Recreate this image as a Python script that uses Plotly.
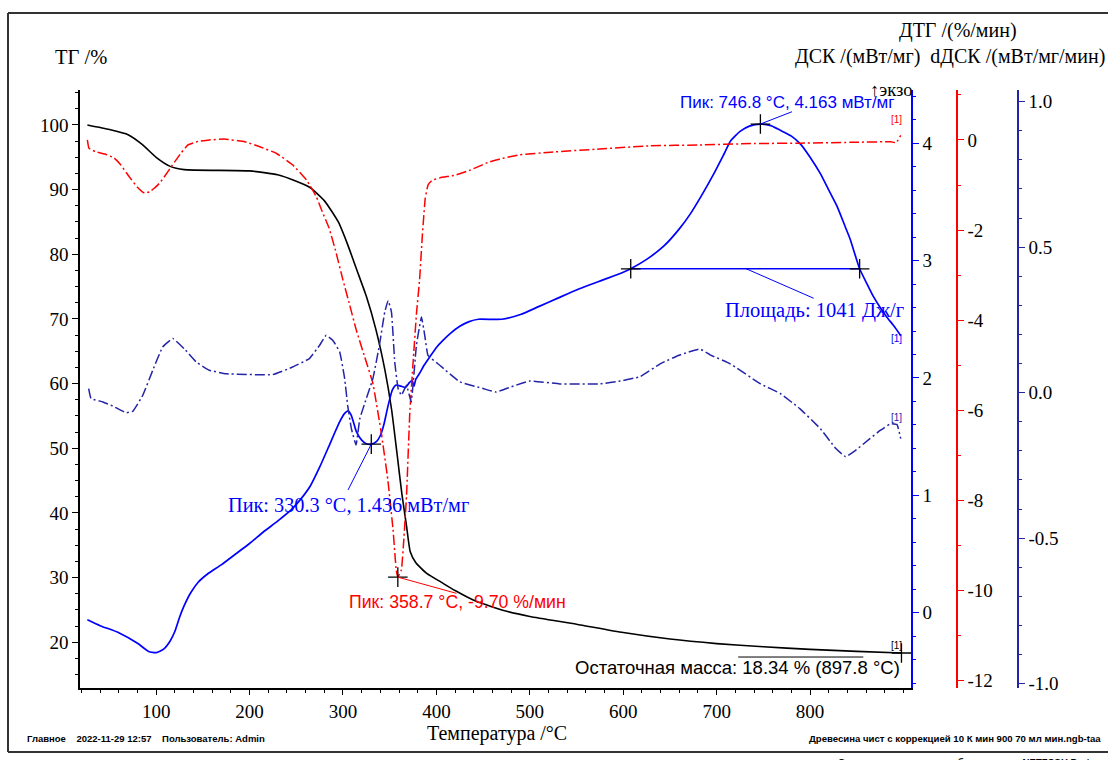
import plotly.graph_objects as go

# ---------------- data ----------------
tg_T = [26.4, 50, 70, 85, 100, 115, 130, 200, 230, 250, 265, 280, 295, 305, 315, 325, 335, 345,
        352, 358, 363, 368, 372, 378, 390, 405, 420, 440, 470, 500, 550, 600, 650, 700, 750, 800, 850, 897.8]
tg_V = [100.0, 99.3, 98.5, 97.0, 95.0, 93.6, 93.1, 92.9, 92.3, 91.3, 90.3, 88.3, 85.0, 81.5, 77.5, 73.5, 68.5, 62.0,
        56.0, 49.0, 43.0, 38.0, 34.0, 32.3, 30.6, 29.3, 28.0, 26.5, 25.0, 24.0, 22.8, 21.5, 20.5, 19.8, 19.3, 18.9, 18.6, 18.34]

dsc_T = [26.4, 40, 60, 80, 92, 100, 108, 115, 120, 125, 130, 137, 145, 155, 170, 185, 200, 215, 230, 245, 255, 265,
         275, 285, 296, 302, 305.5, 309, 314, 320, 325, 330.3, 336, 340, 344, 347, 350, 353, 357, 362, 367, 371, 374,
         376, 378, 382, 387, 393, 400, 407, 415, 425, 435, 445, 470, 490, 510, 530, 553, 580, 600, 608, 625, 643, 660,
         672, 685, 697, 708, 715, 725, 735, 746.8, 758, 768, 780, 790, 800, 811, 820, 829, 838, 843, 853, 861, 868,
         875, 882, 890, 897]
dsc_V = [-0.06, -0.11, -0.17, -0.26, -0.33, -0.34, -0.31, -0.24, -0.16, -0.04, 0.06, 0.17, 0.26, 0.33, 0.41, 0.50,
         0.59, 0.69, 0.78, 0.88, 0.97, 1.08, 1.24, 1.42, 1.62, 1.70, 1.72, 1.68, 1.55, 1.47, 1.44, 1.436, 1.46, 1.51,
         1.61, 1.72, 1.82, 1.90, 1.94, 1.93, 1.92, 1.96, 1.98, 1.93, 1.99, 2.04, 2.11, 2.18, 2.26, 2.32, 2.38, 2.44,
         2.48, 2.50, 2.50, 2.54, 2.61, 2.68, 2.76, 2.84, 2.90, 2.93, 3.01, 3.12, 3.27, 3.40, 3.57, 3.74, 3.91, 4.02,
         4.10, 4.145, 4.163, 4.15, 4.11, 4.06, 3.99, 3.88, 3.74, 3.60, 3.46, 3.28, 3.18, 2.93, 2.80, 2.69, 2.60, 2.52,
         2.44, 2.36]

dtg_T = [26.4, 28, 35, 45, 55, 62, 71, 80, 87.5, 93, 98, 104, 109, 115, 120, 127, 134, 145, 157, 173, 195, 211, 229,
         246, 261, 271.5, 277, 285, 292, 300, 307, 314, 323, 332, 341, 348, 353.6, 357, 358.7, 362.5, 365, 368, 371.5,
         375, 378.7, 382, 385, 388, 391, 395, 404, 420, 436, 455, 468, 489, 522, 575, 629, 682, 736, 790, 850, 886,
         892, 897]
dtg_V = [0.0, -0.18, -0.26, -0.31, -0.40, -0.55, -0.81, -1.05, -1.18, -1.15, -1.07, -0.95, -0.81, -0.63, -0.48, -0.28,
         -0.11, -0.03, 0.0, 0.02, -0.04, -0.15, -0.30, -0.55, -0.89, -1.26, -1.55, -1.95, -2.45, -3.11, -3.65, -4.2,
         -4.8, -5.4, -6.5, -7.54, -8.65, -9.55, -9.70, -9.54, -8.9, -7.9, -6.06, -4.95, -3.84, -3.1, -2.1, -1.3, -1.0,
         -0.9, -0.84, -0.78, -0.67, -0.5, -0.42, -0.33, -0.27, -0.20, -0.13, -0.11, -0.08, -0.07, -0.05, -0.04, -0.06,
         0.10]

ddsc_T = [27.8, 30.3, 43, 53.5, 67.8, 75, 85.7, 96.4, 107, 117.8, 130, 143, 157, 175, 225, 246, 264, 275, 282, 289,
          296.5, 301.8, 305, 309, 314, 318, 325, 332, 339, 344.7, 348.3, 351.9, 355.4, 359, 362.5, 368, 373, 378.6,
          384, 387.5, 391, 403.6, 425, 450, 464, 480, 500, 532, 575, 597, 618, 640, 661, 682, 693, 714, 747, 768,
          789, 811, 827, 838, 848, 864, 875, 886, 893, 897]
ddsc_V = [0.014, -0.02, -0.032, -0.046, -0.069, -0.064, -0.009, 0.077, 0.157, 0.186, 0.151, 0.105, 0.077, 0.065,
          0.062, 0.088, 0.117, 0.163, 0.197, 0.18, 0.14, 0.048, -0.044, -0.124, -0.18, -0.09, -0.02, 0.048, 0.163,
          0.277, 0.317, 0.277, 0.105, 0.014, -0.009, 0.025, -0.032, 0.163, 0.26, 0.197, 0.128, 0.094, 0.037, 0.014,
          0.002, 0.02, 0.04, 0.03, 0.03, 0.04, 0.055, 0.10, 0.13, 0.15, 0.13, 0.10, 0.03, -0.003, -0.055, -0.124,
          -0.19, -0.22, -0.20, -0.158, -0.13, -0.107, -0.11, -0.158]

# evaluated points
dsc_peaks_T = [330.3, 746.8]
dsc_peaks_V = [1.436, 4.163]
area_T = [608, 853]
area_V = [2.93, 2.93]
dtg_peak_T = [358.7]
dtg_peak_V = [-9.70]
resid_T = [897.8]
resid_V = [18.34]

x_ticks = [100, 200, 300, 400, 500, 600, 700, 800]
tg_ticks = [20, 30, 40, 50, 60, 70, 80, 90, 100]
dsc_ticks = [0, 1, 2, 3, 4]
dtg_ticks = [0, -2, -4, -6, -8, -10, -12]
dtg_labels = ["0", "-2", "-4", "-6", "-8", "-10", "-12"]
ddsc_ticks = [1.0, 0.5, 0.0, -0.5, -1.0]
ddsc_labels = ["1.0", "0.5", "0.0", "-0.5", "-1.0"]

# ---------------- layout helpers ----------------
W, H = 1108, 760
L, R, T_, B = 80, 0, 90, 72
PW, PH = W - L - R, H - T_ - B


def px(x):
    return (x - L) / PW


def py(y):
    return (H - B - y) / PH


BLUE = "#0000FF"
RED = "#FF0000"
NAVY = "#2424A8"
SERIF = "Liberation Serif"
SANS = "Liberation Sans"
dashdot = "10px,3px,2px,3px"
SM = 0.5

fig = go.Figure()
fig.add_trace(go.Scatter(x=tg_T, y=tg_V, mode="lines", line=dict(color="black", width=1.6, shape="spline", smoothing=SM),
                         xaxis="x", yaxis="y", showlegend=False))
fig.add_trace(go.Scatter(x=dtg_T, y=dtg_V, mode="lines",
                         line=dict(color=RED, width=1.5, dash=dashdot, shape="spline", smoothing=0.3),
                         xaxis="x", yaxis="y3", showlegend=False))
fig.add_trace(go.Scatter(x=ddsc_T, y=ddsc_V, mode="lines",
                         line=dict(color=NAVY, width=1.5, dash=dashdot, shape="spline", smoothing=0.3),
                         xaxis="x", yaxis="y4", showlegend=False))
fig.add_trace(go.Scatter(x=dsc_T, y=dsc_V, mode="lines", line=dict(color=BLUE, width=1.7, shape="spline", smoothing=SM),
                         xaxis="x", yaxis="y2", showlegend=False))
# area baseline
fig.add_trace(go.Scatter(x=area_T, y=area_V, mode="lines", line=dict(color=BLUE, width=1.4),
                         xaxis="x", yaxis="y2", showlegend=False))
# markers
cross = dict(symbol="cross-thin", size=14, line=dict(color="black", width=1.3))
fig.add_trace(go.Scatter(x=dsc_peaks_T + area_T, y=dsc_peaks_V + area_V, mode="markers", marker=cross,
                         xaxis="x", yaxis="y2", showlegend=False))
fig.add_trace(go.Scatter(x=dtg_peak_T, y=dtg_peak_V, mode="markers", marker=cross,
                         xaxis="x", yaxis="y3", showlegend=False))
fig.add_trace(go.Scatter(x=resid_T, y=resid_V, mode="markers", marker=cross,
                         xaxis="x", yaxis="y", showlegend=False))

tickfont = dict(family=SERIF, size=19, color="black")
xd = px(911)

fig.update_layout(
    width=W, height=H, margin=dict(l=L, r=R, t=T_, b=B),
    paper_bgcolor="white", plot_bgcolor="white",
    xaxis=dict(domain=[0, xd], range=[18.5, 908], tickmode="array", tickvals=x_ticks,
               ticks="outside", ticklen=5, tickwidth=1, tickcolor="black",
               minor=dict(dtick=20, tick0=0, ticks="outside", ticklen=3, tickcolor="black"),
               showline=True, linecolor="black", linewidth=1.5, showgrid=False, zeroline=False,
               tickfont=tickfont),
    yaxis=dict(range=[12.93, 105.41], tickmode="array", tickvals=tg_ticks,
               ticks="outside", ticklen=6, tickcolor="black",
               minor=dict(dtick=2.5, tick0=0, ticks="outside", ticklen=3, tickcolor="black"),
               showline=True, linecolor="black", linewidth=1.5, showgrid=False, zeroline=False,
               tickfont=tickfont),
    yaxis2=dict(range=[-0.641, 4.453], overlaying="y", side="right", anchor="x",
                tickmode="array", tickvals=dsc_ticks,
                ticks="outside", ticklen=6, tickcolor=BLUE,
                minor=dict(dtick=0.2, tick0=0, ticks="outside", ticklen=3, tickcolor=BLUE),
                showline=True, linecolor=BLUE, linewidth=1.5, showgrid=False, zeroline=False,
                tickfont=tickfont),
    yaxis3=dict(range=[-12.16, 1.109], overlaying="y", side="right", anchor="free", position=px(957),
                tickmode="array", tickvals=dtg_ticks, ticktext=dtg_labels,
                ticks="outside", ticklen=6, tickcolor=RED,
                minor=dict(dtick=1, tick0=0, ticks="outside", ticklen=3, tickcolor=RED),
                showline=True, linecolor=RED, linewidth=1.5, showgrid=False, zeroline=False,
                tickfont=tickfont),
    yaxis4=dict(range=[-1.015, 1.040], overlaying="y", side="right", anchor="free", position=px(1018),
                tickmode="array", tickvals=ddsc_ticks, ticktext=ddsc_labels,
                ticks="outside", ticklen=6, tickcolor=NAVY,
                minor=dict(dtick=0.1, tick0=0, ticks="outside", ticklen=3, tickcolor=NAVY),
                showline=True, linecolor=NAVY, linewidth=1.5, showgrid=False, zeroline=False,
                tickfont=tickfont),
)

# leader lines (data coordinates)
shapes = [
    dict(type="line", xref="x", yref="y2", x0=746.8, y0=4.163, x1=780.6, y1=4.268, line=dict(color=BLUE, width=1)),
    dict(type="line", xref="x", yref="y2", x0=330.3, y0=1.436, x1=305.4, y1=1.046, line=dict(color=BLUE, width=1)),
    dict(type="line", xref="x", yref="y2", x0=730.5, y0=2.934, x1=803.8, y1=2.679, line=dict(color=BLUE, width=1)),
    dict(type="line", xref="x", yref="y3", x0=358.7, y0=-9.70, x1=421.5, y1=-10.06, line=dict(color=RED, width=1)),
    dict(type="line", xref="x", yref="y", x0=723, y0=17.72, x1=857, y1=17.72, line=dict(color="black", width=1)),
    # page frame
    dict(type="line", xref="paper", yref="paper", x0=px(8), y0=py(13), x1=px(1108), y1=py(13),
         line=dict(color="#333333", width=2)),
    dict(type="line", xref="paper", yref="paper", x0=px(8), y0=py(13), x1=px(8), y1=py(752),
         line=dict(color="#333333", width=2)),
    dict(type="line", xref="paper", yref="paper", x0=px(8), y0=py(752), x1=px(1108), y1=py(752),
         line=dict(color="#333333", width=2)),
]
fig.update_layout(shapes=shapes)


def ann(text, x, y, size, color="black", family=SERIF, xanchor="center", yanchor="middle"):
    return dict(text=text, x=px(x), y=py(y), xref="paper", yref="paper", showarrow=False,
                xanchor=xanchor, yanchor=yanchor, font=dict(family=family, size=size, color=color))


annotations = [
    ann("ТГ /%", 81, 57, 20.5),
    ann("ДТГ /(%/мин)", 958, 31, 20),
    ann("ДСК /(мВт/мг)  dДСК /(мВт/мг/мин)", 1107, 57, 20, xanchor="right"),
    ann("Температура /°C", 497, 733, 20),
    ann("Пик: 746.8 °C, 4.163 мВт/мг", 678, 103, 17, BLUE, SANS, xanchor="left"),
    ann("↑экзо", 914, 90, 18.5, xanchor="right"),
    ann("Пик: 330.3 °C, 1.436 мВт/мг", 226, 505, 20.3, BLUE, SERIF, xanchor="left"),
    ann("Площадь: 1041 Дж/г", 723, 310, 20.5, BLUE, SERIF, xanchor="left"),
    ann("Пик: 358.7 °C, -9.70 %/мин", 347, 602, 17.7, RED, SANS, xanchor="left"),
    ann("Остаточная масса: 18.34 % (897.8 °C)", 902, 667, 18.5, "black", SANS, xanchor="right"),
    ann("[1]", 896, 120, 10, RED, SANS),
    ann("[1]", 896, 338, 10, BLUE, SANS),
    ann("[1]", 896, 417, 10, NAVY, SANS),
    ann("[1]", 896, 645, 10, "black", SANS),
    ann("<b>Главное</b>    <b>2022-11-29 12:57</b>    <b>Пользователь: Admin</b>", 25, 738, 9.5, "black", SANS,
        xanchor="left"),
    ann("<b>Древесина чист с коррекцией 10 К мин 900 70 мл мин.ngb-taa</b>", 1103, 738, 9.6, "black", SANS,
        xanchor="right"),
    ann("<b>Создано программным обеспечением NETZSCH Proteus</b>", 1108, 754, 9.6, "black", SANS,
        xanchor="right", yanchor="top"),
]
fig.update_layout(annotations=annotations)

fig.write_html("out.html")
